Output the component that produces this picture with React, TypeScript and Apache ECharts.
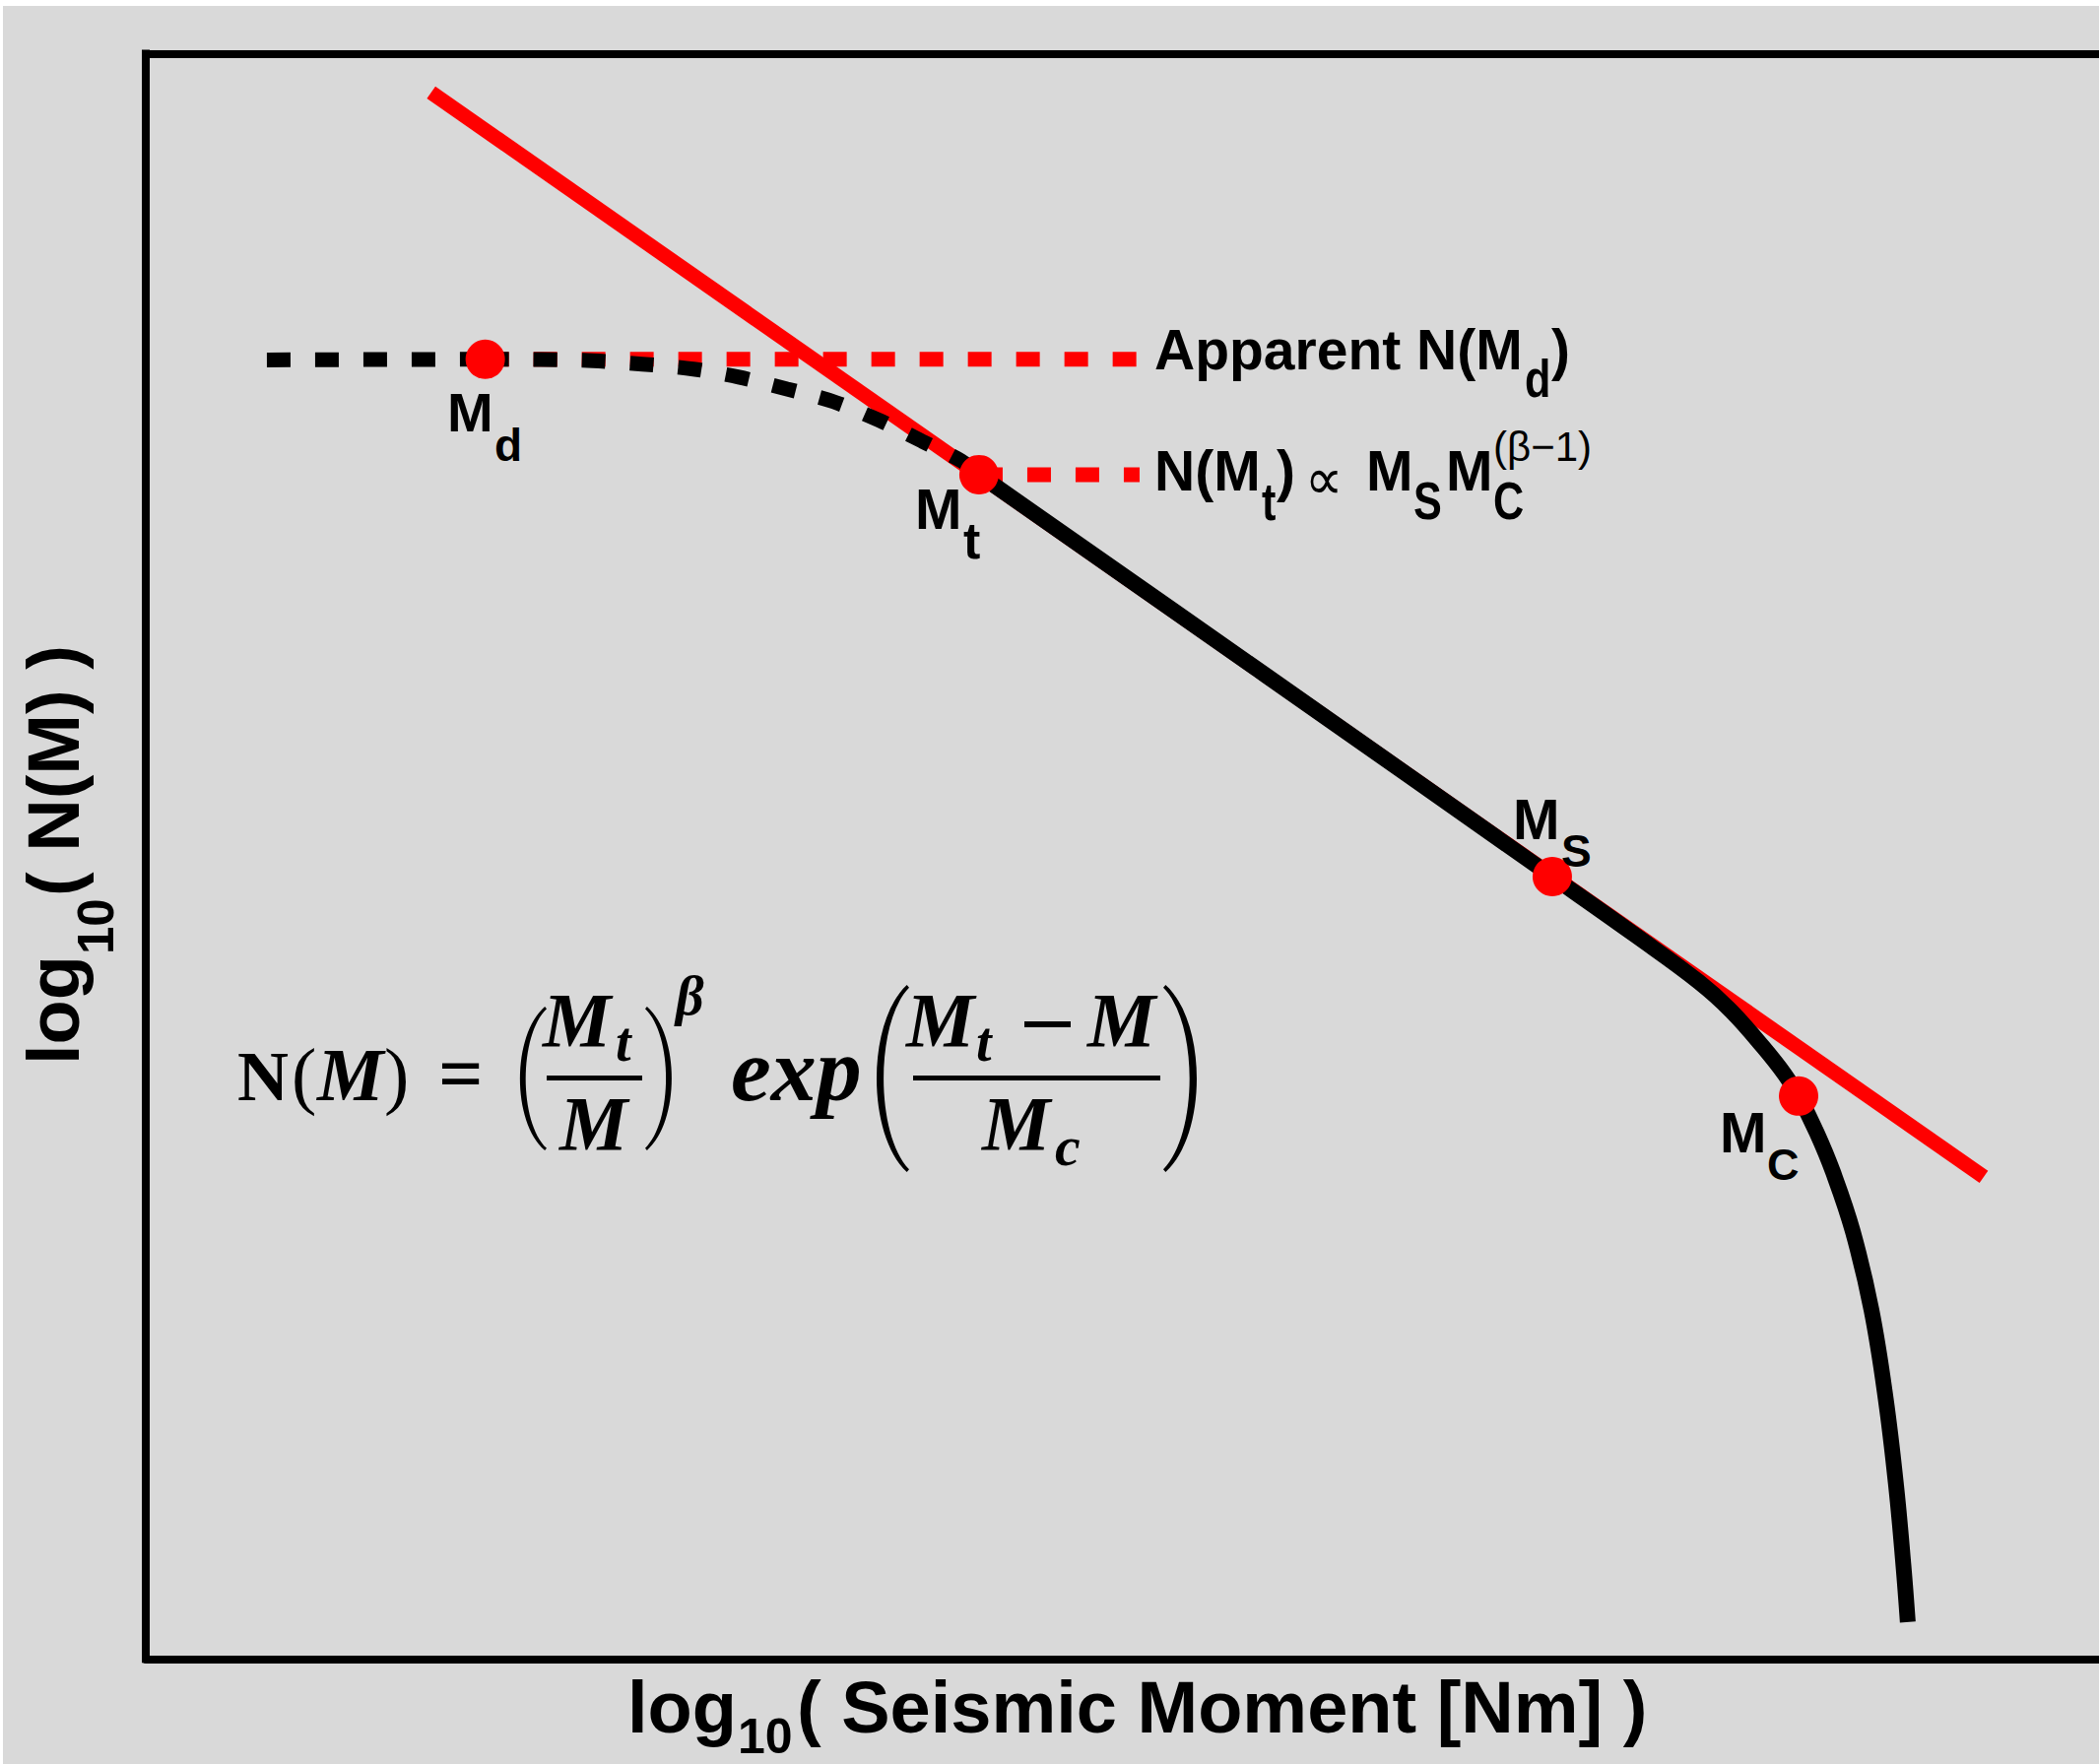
import React, { useEffect, useRef } from "react";
import * as echarts from "echarts";

// ---------- data (log10 moment on x, log10 N on y) ----------
const X_MIN = 9;
const X_MAX = 19;
const Y_MIN = 0;
const Y_MAX = 8;

// pure Gutenberg-Richter power law (red straight line)
const powerLawX = [10.461, 18.41];
const powerLawY = [7.807, 2.402];

// apparent plateau below detection threshold (black dashed, flat part)
const plateauX = [9.62, 10.738];
const plateauY = [6.474, 6.477];

// roll-off between Md and Mt (black dashed, curved)
const rollOffX = [10.738, 11.239, 11.542, 11.804, 12.036, 12.283, 12.52, 12.757, 12.974, 13.175, 13.266];
const rollOffY = [6.477, 6.472, 6.453, 6.428, 6.388, 6.329, 6.266, 6.172, 6.069, 5.971, 5.902];

// tapered distribution above Mt (black solid)
const taperX = [13.266, 14.734, 16.201, 16.63, 16.953, 17.119, 17.28, 17.391, 17.462, 17.555, 17.638, 17.739, 17.835, 17.908, 17.962, 17.999, 18.021];
const taperY = [5.902, 4.902, 3.899, 3.604, 3.373, 3.227, 3.05, 2.913, 2.805, 2.623, 2.427, 2.132, 1.739, 1.297, 0.856, 0.463, 0.184];

// red dashed reference levels
const levelMdX = [10.738, 14.088];
const levelMdY = [6.477, 6.477];
const levelMtX = [13.266, 14.088];
const levelMtY = [5.902, 5.902];

// marked moments Md, Mt, Ms, Mc
const pointNames = ["Md", "Mt", "Ms", "Mc"];
const pointX = [10.738, 13.266, 16.201, 17.462];
const pointY = [6.477, 5.902, 3.899, 2.805];

// ---------- helpers ----------
const OX = 3;
const OY = 6;
const SANS = "'Liberation Sans', Arial, Helvetica, sans-serif";
const SERIF = "'Liberation Serif', 'Times New Roman', serif";

const pairs = (xs: number[], ys: number[]) => xs.map((x, i) => [x, ys[i]]);

echarts.graphic.registerShape(
  "lparen",
  echarts.graphic.extendPath("M20 0 C-6.67 20 -6.67 80 20 100 L21.5 98.5 C-1 80 -1 20 21.5 1.5 Z", {})
);
echarts.graphic.registerShape(
  "rparen",
  echarts.graphic.extendPath("M0 0 C26.67 20 26.67 80 0 100 L-1.5 98.5 C21 80 21 20 -1.5 1.5 Z", {})
);

type TOpt = { family?: string; weight?: string; fontStyle?: string; k?: number; sx?: number };

function txt(text: string, left: number, baseline: number, fs: number, o: TOpt = {}, local = false) {
  const family = o.family || SANS;
  const k = o.k ?? (family === SERIF ? 0.3375 : 0.345);
  return {
    type: "text",
    z: 100,
    silent: true,
    x: left - (local ? 0 : OX),
    y: baseline - (local ? 0 : OY) - k * fs,
    scaleX: o.sx ?? 1,
    style: {
      text,
      fontSize: fs,
      fontFamily: family,
      fontWeight: o.weight ?? "bold",
      fontStyle: o.fontStyle ?? "normal",
      fill: "#000",
      align: "left",
      verticalAlign: "middle",
      textAlign: "left",
      textVerticalAlign: "middle",
    },
  };
}

function bar(x0: number, x1: number, y0: number, y1: number) {
  return {
    type: "rect",
    z: 100,
    silent: true,
    shape: { x: x0 - OX, y: y0 - OY, width: x1 - x0, height: y1 - y0 },
    style: { fill: "#000" },
  };
}

function paren(kind: "lparen" | "rparen", left: number, right: number, top: number, bottom: number) {
  const sx = (right - left) / 21.5;
  const sy = (bottom - top) / 100;
  return {
    type: kind,
    z: 100,
    silent: true,
    x: left - OX + (kind === "rparen" ? 1.5 * sx : 0),
    y: top - OY,
    scaleX: sx,
    scaleY: sy,
    style: { fill: "#000" },
  };
}

const BI = { family: SERIF, fontStyle: "italic", weight: "bold" };
const SUB = { sx: 0.8 };

export default function App() {
  const ref = useRef<HTMLDivElement>(null);

  useEffect(() => {
    if (!ref.current) return;
    const chart = echarts.init(ref.current, null, { renderer: "svg" });

    const hiddenAxisParts = {
      axisTick: { show: false },
      axisLabel: { show: false },
      splitLine: { show: false },
    };

    const graphics: any[] = [
      // legend-like annotations
      txt("Apparent N(M", 1172, 375, 57),
      txt("d", 1548, 403, 54, SUB),
      txt(")", 1575, 375, 57),
      txt("N(M", 1172, 498, 57),
      txt("t", 1281, 528, 54, SUB),
      txt(")", 1296, 498, 57),
      txt("\u221D", 1325, 486 + 0.345 * 60, 60, { family: "'DejaVu Sans', sans-serif", weight: "normal", sx: 0.9 }),
      txt("M", 1387, 498, 57),
      txt("S", 1435, 527, 54, SUB),
      txt("M", 1468, 498, 57),
      txt("C", 1516, 527, 54, SUB),
      txt("(\u03B2\u22121)", 1516, 468, 42, { weight: "normal" }),
      // point labels
      txt("M", 454, 438, 56),
      txt("d", 502, 468, 46),
      txt("M", 929, 537, 57),
      txt("t", 978, 567, 52),
      txt("M", 1536, 852, 57),
      txt("S", 1585, 880, 46),
      txt("M", 1746, 1170, 57),
      txt("C", 1794, 1198, 45),
      // formula
      txt("N", 241, 1117, 72, { family: SERIF, weight: "bold" }),
      txt("(", 296, 1117, 76, { family: SERIF, weight: "normal" }),
      txt("M", 322, 1117, 76, BI),
      txt(")", 390, 1117, 76, { family: SERIF, weight: "normal" }),
      txt("=", 445, 1117, 80, { family: SERIF, weight: "bold" }),
      paren("lparen", 528, 555, 1022, 1168),
      txt("M", 551, 1062, 78, BI),
      txt("t", 625, 1077, 56, BI),
      bar(555, 652, 1092, 1097),
      txt("M", 568, 1167, 78, BI),
      paren("rparen", 655, 682, 1022, 1168),
      txt("\u03B2", 686, 1030, 56, BI),
      txt("exp", 742, 1117, 92, BI),
      paren("lparen", 890, 923, 1000, 1190),
      txt("M", 920, 1062, 78, BI),
      txt("t", 991, 1077, 56, BI),
      bar(1040, 1087, 1037, 1043),
      txt("M", 1104, 1062, 78, BI),
      bar(927, 1178, 1092, 1097),
      txt("M", 997, 1167, 78, BI),
      txt("c", 1071, 1183, 58, BI),
      paren("rparen", 1181, 1215, 1000, 1190),
      // x axis title
      txt("log", 637, 1759, 74),
      txt("10", 749, 1780, 50),
      txt("( Seismic Moment [Nm] )", 809, 1759, 74),
      // y axis title (rotated)
      {
        type: "group",
        x: 80 - OX,
        y: 1076 - OY,
        rotation: Math.PI / 2,
        children: [
          txt("log", -5, 0, 74, {}, true),
          txt("10", 107, 35, 51, {}, true),
          txt("( N(M) )", 166, 0, 74, {}, true),
        ],
      },
    ];

    const option: any = {
      animation: false,
      backgroundColor: "#d9d9d9",
      grid: { left: 145, top: 48.5, right: 0, bottom: 106.7, containLabel: false },
      xAxis: [
        {
          type: "value",
          min: X_MIN,
          max: X_MAX,
          position: "bottom",
          axisLine: { show: true, onZero: false, lineStyle: { color: "#000", width: 8 } },
          ...hiddenAxisParts,
        },
        {
          type: "value",
          min: X_MIN,
          max: X_MAX,
          position: "top",
          axisLine: { show: true, onZero: false, lineStyle: { color: "#000", width: 8 } },
          ...hiddenAxisParts,
        },
      ],
      yAxis: {
        type: "value",
        min: Y_MIN,
        max: Y_MAX,
        position: "left",
        axisLine: { show: true, onZero: false, lineStyle: { color: "#000", width: 8, cap: "square" } },
        ...hiddenAxisParts,
      },
      series: [
        {
          name: "power law",
          type: "line",
          data: pairs(powerLawX, powerLawY),
          showSymbol: false,
          silent: true,
          z: 2,
          lineStyle: { color: "#ff0000", width: 15 },
        },
        {
          name: "N(Md) level",
          type: "line",
          data: pairs(levelMdX, levelMdY),
          showSymbol: false,
          silent: true,
          z: 3,
          lineStyle: { color: "#ff0000", width: 15, type: [24, 25] },
        },
        {
          name: "N(Mt) level",
          type: "line",
          data: pairs(levelMtX, levelMtY),
          showSymbol: false,
          silent: true,
          z: 3,
          lineStyle: { color: "#ff0000", width: 15, type: [24, 25] },
        },
        {
          name: "plateau",
          type: "line",
          data: pairs(plateauX, plateauY),
          showSymbol: false,
          silent: true,
          z: 4,
          lineStyle: { color: "#000", width: 15, type: [24, 25] },
        },
        {
          name: "roll-off",
          type: "line",
          data: pairs(rollOffX, rollOffY),
          smooth: 0.3,
          showSymbol: false,
          silent: true,
          z: 4,
          lineStyle: { color: "#000", width: 15, type: [24, 25] },
        },
        {
          name: "tapered",
          type: "line",
          data: pairs(taperX, taperY),
          smooth: 0.4,
          showSymbol: false,
          silent: true,
          z: 4,
          lineStyle: { color: "#000", width: 16, join: "round" },
        },
        {
          name: "moments",
          type: "scatter",
          data: pointX.map((x, i) => ({ name: pointNames[i], value: [x, pointY[i]] })),
          symbol: "circle",
          symbolSize: 40,
          silent: true,
          z: 6,
          itemStyle: { color: "#ff0000", opacity: 1 },
        },
      ],
      graphic: graphics,
    };

    chart.setOption(option);
    return () => chart.dispose();
  }, []);

  return (
    <div
      ref={ref}
      style={{ position: "absolute", left: 3, top: 6, width: 2128, height: 1785 }}
    />
  );
}
